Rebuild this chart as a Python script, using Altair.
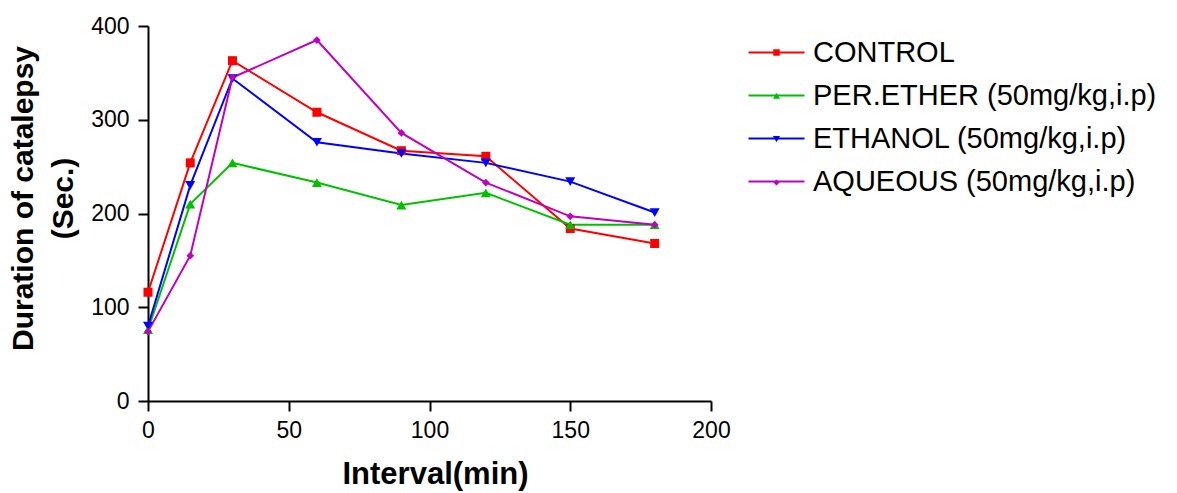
import altair as alt
import pandas as pd

minutes = [0, 15, 30, 60, 90, 120, 150, 180]
series_names = ["CONTROL", "PER.ETHER (50mg/kg,i.p)", "ETHANOL (50mg/kg,i.p)", "AQUEOUS (50mg/kg,i.p)"]
control = [116, 254, 363, 308, 267, 261, 184, 168]
per_ether = [76, 210, 254, 233, 209, 222, 188, 188]
ethanol = [80, 230, 344, 276, 264, 254, 234, 201]
aqueous = [74, 155, 345, 385, 286, 233, 197, 188]
colors = ["#FF0000", "#00C000", "#0000FF", "#C000C0"]
shapes = ["square", "triangle-up", "triangle-down", "diamond"]
marker_sizes = [81, 100, 100, 60]
legend_marker_sizes = [42, 50, 50, 36]
x_ticks = [0, 50, 100, 150, 200]
y_ticks = [0, 100, 200, 300, 400]

rows = []
for name, vals in zip(series_names, [control, per_ether, ethanol, aqueous]):
    for m, v in zip(minutes, vals):
        rows.append({"minute": m, "value": v, "series": name})
df = pd.DataFrame(rows)

FONT = "Liberation Sans"
LEG_X = 614
LEG_Y = 12
ROW_STEP = 43.3

x_enc = alt.X("minute:Q", scale=alt.Scale(domain=[0, 200], nice=False),
              axis=alt.Axis(values=x_ticks, title="Interval(min)", titleX=287, titleY=58,
                            titleBaseline="top", titleFontSize=31))
y_enc = alt.Y("value:Q", scale=alt.Scale(domain=[0, 400], nice=False),
              axis=alt.Axis(values=y_ticks, title=["Duration of catalepsy", "(Sec.)"],
                            titleX=-110, titleY=172, titleAngle=270, titleAlign="center",
                            titleBaseline="bottom", titleLineHeight=40))

base = alt.Chart(df)

common_leg = dict(orient="none", title=None, labelFontSize=29, labelFont=FONT,
                  labelColor="black", rowPadding=13, labelOffset=22, padding=0,
                  labelLimit=700)

lines = base.mark_line(strokeWidth=2).encode(
    x=x_enc, y=y_enc,
    color=alt.Color("series:N", scale=alt.Scale(domain=series_names, range=colors),
                    sort=series_names,
                    legend=alt.Legend(legendX=LEG_X, legendY=LEG_Y, symbolType="M-8,0H8",
                                      symbolSize=49, symbolStrokeWidth=2, **common_leg)),
)

point_layers = []
for i, (name, col, shp, sz, lsz) in enumerate(
        zip(series_names, colors, shapes, marker_sizes, legend_marker_sizes)):
    point_layers.append(
        base.transform_filter(alt.datum.series == name).mark_point(
            filled=True, opacity=1, shape=shp, size=sz
        ).encode(
            x=x_enc, y=y_enc,
            color=alt.Color("series:N", scale=alt.Scale(domain=[name], range=[col]),
                            legend=alt.Legend(legendX=LEG_X, legendY=LEG_Y + i * ROW_STEP,
                                              symbolType=shp, symbolSize=lsz,
                                              symbolStrokeWidth=0, labelOpacity=0,
                                              **common_leg)),
        )
    )

chart = alt.layer(lines, *point_layers).resolve_scale(color="independent").properties(
    width=563, height=375,
    autosize=alt.AutoSizeParams(type="none"),
    padding={"left": 140, "top": 18, "right": 458, "bottom": 100},
).configure_view(strokeWidth=0).configure_axis(
    grid=False, domainColor="black", domainWidth=2, tickColor="black", tickWidth=2,
    tickSize=10, labelFontSize=23, labelFont=FONT, labelColor="black", labelPadding=8,
    labelFlush=False,
    titleFont=FONT, titleFontSize=30, titleFontWeight="bold", titleColor="black",
).configure_axisY(labelPadding=9)

chart.save("out.html", embed_options={"renderer": "svg", "actions": False})
